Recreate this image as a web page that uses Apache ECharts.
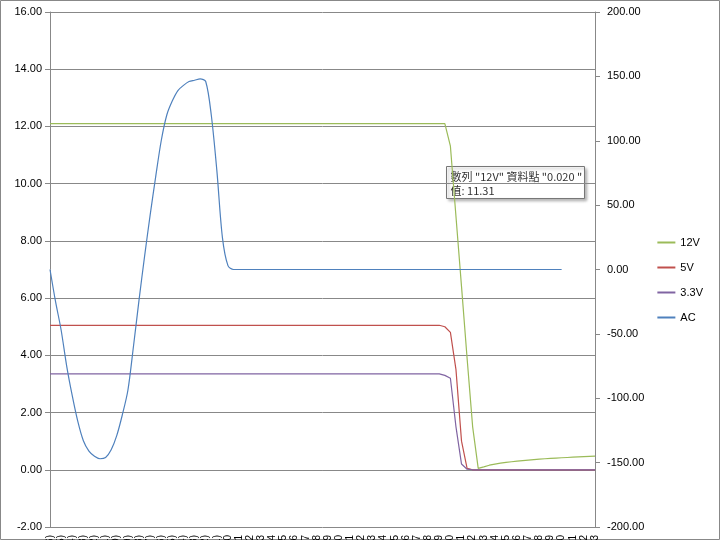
<!DOCTYPE html><html><head><meta charset="utf-8"><script src="https://cdn.jsdelivr.net/npm/echarts@6/dist/echarts.min.js"></script></head><body style="margin:0"><div id="c" style="width:720px;height:540px;"></div><script>
var cats=[];for(var i=0;i<=98;i++){cats.push(((i-32)*0.0005).toFixed(4));}
var fall12=[11.31,8.85,6.4,3.9,1.5,0.05,0.1,0.16,0.2,0.23,0.26,0.28,0.3,0.32,0.34,0.355,0.37,0.385,0.4,0.41,0.42,0.43,0.44,0.45,0.46,0.47,0.48];
var fall5=[5.0,4.8,3.5,1.0,0.05];
var fall33=[3.3,3.2,1.5,0.2,0.02];
var acHead=[0,-25,-47,-75,-98,-118,-133,-141,-145,-147,-146,-140,-129,-113,-94,-60,-24,10,42,72,100,120,131,139,143,146,147,148,146,120,77,25,3];
var v12=[],v5=[],v33=[],ac=[];
for(var i=0;i<=98;i++){
 v12.push(i<72?12.1:(fall12[i-72]!==undefined?fall12[i-72]:0.49));
 v5.push(i<71?5.05:(fall5[i-71]!==undefined?fall5[i-71]:0.0));
 v33.push(i<71?3.35:(fall33[i-71]!==undefined?fall33[i-71]:0.0));
 ac.push(i<acHead.length?acHead[i]:(i<=92?0:null));
}
function lab(v,i){var n=Math.round(parseFloat(v)*10000);if(n%10!==0)return '';var s=Math.abs(n/10000).toFixed(3);return n<0?'('+s+')':s;}
var ch=echarts.init(document.getElementById('c'));
ch.setOption({
 animation:false,
 graphic:[{type:'rect',shape:{x:0.5,y:0.5,width:719,height:539},style:{fill:'none',stroke:'#888'}},
  {type:'group',left:446,top:166,children:[
   {type:'rect',shape:{x:0,y:0,width:138,height:32},style:{fill:'#fff',stroke:'#777',shadowBlur:3,shadowColor:'rgba(0,0,0,0.3)',shadowOffsetX:2,shadowOffsetY:2}},
   {type:'text',style:{x:4,y:3,text:'數列 "12V" 資料點 "0.020 "\n值: 11.31',fontSize:11,lineHeight:14,fill:'#333',fontFamily:'Noto Sans CJK TC'}}]}],
 legend:{orient:'vertical',right:12,top:232,itemGap:14,icon:'rect',itemWidth:18,itemHeight:2,textStyle:{fontSize:11,color:'#000'},data:['12V','5V','3.3V','AC']},
 grid:{left:50,right:125,top:12,bottom:13,outerBoundsMode:'none',containLabel:false},
 xAxis:{type:'category',data:cats,boundaryGap:false,axisLine:{onZero:true,lineStyle:{color:'#888'}},axisTick:{show:false},
  axisLabel:{interval:0,rotate:90,formatter:lab,fontSize:10,color:'#000',fontFamily:'Liberation Sans'},splitLine:{show:false}},
 yAxis:[{type:'value',min:-2,max:16,interval:2,position:'left',axisLine:{show:true,lineStyle:{color:'#888'}},axisTick:{show:true},
   axisLabel:{formatter:function(v){return v.toFixed(2);},fontSize:11,color:'#000'},splitLine:{lineStyle:{color:'#888'}}},
  {type:'value',min:-200,max:200,interval:50,position:'right',axisLine:{show:true,lineStyle:{color:'#888'}},axisTick:{show:true},
   axisLabel:{formatter:function(v){return v.toFixed(2);},fontSize:11,color:'#000',margin:12},splitLine:{show:false}}],
 series:[
  {name:'12V',type:'line',data:v12,symbol:'none',lineStyle:{width:1.2,color:'#9bbb59'},itemStyle:{color:'#9bbb59'}},
  {name:'5V',type:'line',data:v5,symbol:'none',lineStyle:{width:1.2,color:'#c0504d'},itemStyle:{color:'#c0504d'}},
  {name:'3.3V',type:'line',data:v33,symbol:'none',lineStyle:{width:1.2,color:'#8064a2'},itemStyle:{color:'#8064a2'}},
  {name:'AC',type:'line',yAxisIndex:1,data:ac,symbol:'none',smooth:0.3,lineStyle:{width:1.2,color:'#4f81bd'},itemStyle:{color:'#4f81bd'}}]
});
</script></body></html>
